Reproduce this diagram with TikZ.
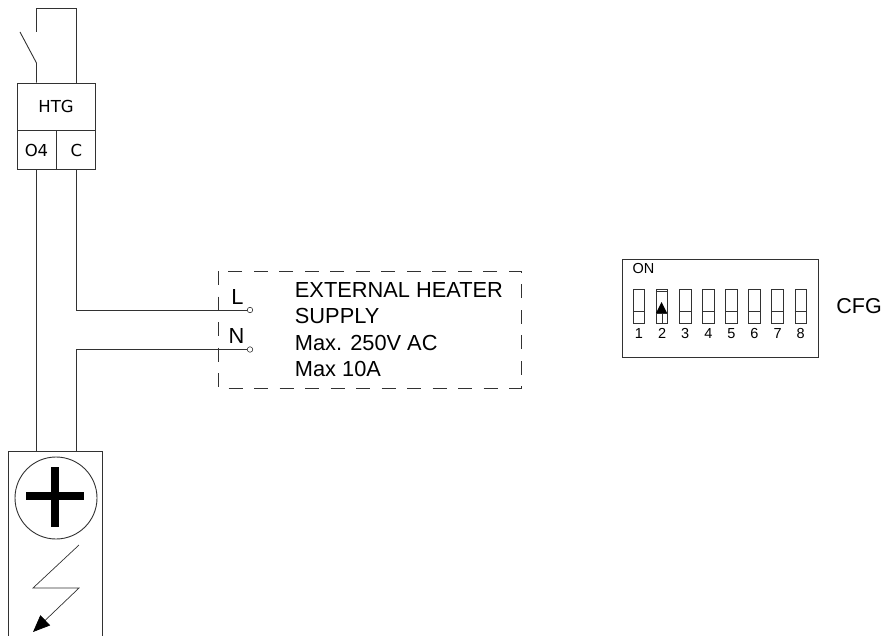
\documentclass[tikz,border=0pt]{standalone}
\usepackage{fontspec}
\setmainfont{Liberation Sans}
\newfontfamily\htgfont{DejaVu Sans}
\usetikzlibrary{positioning,arrows.meta}
\definecolor{myline}{RGB}{50,50,50}
\begin{document}
\begin{tikzpicture}[x=1pt,y=-1pt,line width=0.9pt,myline,
  htgcell/.style={draw,inner sep=0pt,minimum height=39pt,minimum width=39pt,font=\htgfont\fontsize{16.5}{16.5}\selectfont,text=black},
  htghead/.style={draw,inner sep=0pt,minimum height=47pt,minimum width=78pt,font=\htgfont\fontsize{16.5}{16.5}\selectfont,text=black},
  terminal/.style={circle,draw,inner sep=0pt,minimum size=5.5pt,line width=0.6pt},
  wirelabel/.style={inner sep=0pt,text=black,font=\fontsize{21.8}{21.8}\selectfont},
  infotext/.style={inner sep=0pt,anchor=base west,text=black,font=\fontsize{21.8}{21.8}\selectfont},
  dipnum/.style={inner sep=0pt,anchor=base,text=black,font=\fontsize{14.5}{14.5}\selectfont},
  dipslot/.style={draw,inner sep=0pt,minimum width=11.5pt,minimum height=34pt,line width=0.8pt}
]
\useasboundingbox (0,0) rectangle (885,636);

% the HTG terminal block
\node[htghead] (htg) at (56,106.5) {HTG};
\node[htgcell,below=0pt of htg.south west,anchor=north west] (o4) {O4};
\node[htgcell,right=0pt of o4] (c) {C};

% the switch
\coordinate (swtop) at (o4.north |- 0,32);
\coordinate (swpivot) at (o4.north |- 0,63);
\coordinate (swarm) at (20,32);
\draw (swtop) -- (o4.north |- 0,8) -- (c.north |- 0,8) -- (c.north |- htg.north);
\draw (swarm) -- (swpivot) -- (swpivot |- htg.north);

% the external supply
\draw[dashed,dash pattern=on 14pt off 11.5pt] (218,271) rectangle (521,388);
\node[terminal] (lterm) at (250,310) {};
\node[terminal] (nterm) at (250,349.5) {};
\node[wirelabel] (llabel) at (237.5,297) {L};
\node[wirelabel] (nlabel) at (236.5,336) {N};
\node[infotext] (line1) at (294.5,297.5) {EXTERNAL HEATER};
\node[infotext] (line2) at (294.5,323.5) {SUPPLY};
\node[infotext] (line3) at (294.5,350) {Max. 250V AC};
\node[infotext] (line4) at (294.5,376.5) {Max 10A};

% the heater device
\coordinate (devo4) at (o4.south |- 0,451);
\coordinate (devc) at (c.south |- 0,451);
\draw (8,636) -- (8,451) -- (102,451) -- (102,636);
\node[circle,draw,inner sep=0pt,minimum size=82pt] (plus) at (56,498) {};
\fill[black] (26,492) rectangle (84,500);
\fill[black] (51,467) rectangle (59,527);
\coordinate (bolttop) at (79,545);
\coordinate (boltleft) at (33,588);
\coordinate (boltright) at (79,588);
\coordinate (bolttip) at (33,632);
\draw[-{Triangle[length=17pt,width=14pt,black]},line width=0.7pt] (bolttop) -- (boltleft) -- (boltright) -- (bolttip);

% the wires
\draw (o4.south) -- (devo4);
\draw (c.south) |- (lterm.west);
\draw (devc) |- (nterm.west);

% the CFG switches
\node[draw,inner sep=0pt,minimum width=196pt,minimum height=98pt] (cfg) at (720,308) {};
\node[inner sep=0pt,text=black,font=\fontsize{14.5}{14.5}\selectfont] (onlabel) at (643.5,268.5) {ON};
\node[inner sep=0pt,text=black,anchor=west,font=\fontsize{21.5}{21.5}\selectfont] (cfglabel) at (836,306.5) {CFG};
\foreach \i in {1,...,8} {
  \node[dipslot] (sw\i) at ({639+23.1*(\i-1)},306) {};
  \node[dipnum] (num\i) at ({639+23.1*(\i-1)},338) {\i};
  \ifnum\i=2\else
    \draw[line width=0.8pt] (sw\i.west |- 0,311) -- (sw\i.east |- 0,311);
  \fi
}
% the switch set to on
\draw[line width=0.8pt] (sw2.west |- 0,291.5) -- (sw2.east |- 0,291.5);
\draw[line width=0.8pt] (sw2.west |- 0,313) -- (sw2.east |- 0,313);
\draw[line width=0.7pt] (sw2.south) -- (sw2.center |- 0,313);
\fill[black] (661.5,302) -- (667,313) -- (656,313) -- cycle;
\end{tikzpicture}
\end{document}
